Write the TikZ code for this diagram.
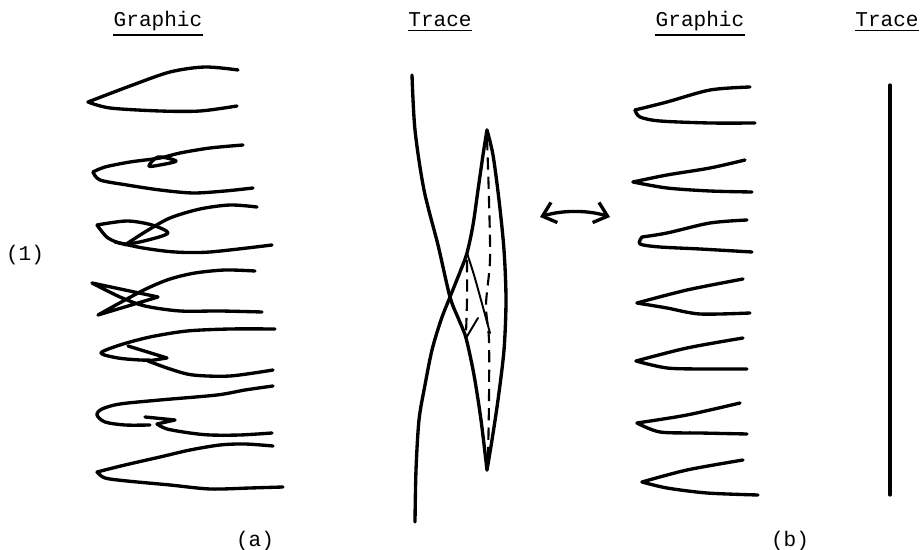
\documentclass[tikz,border=0pt]{standalone}
\usepackage{fontspec}
\setmonofont{Liberation Mono}
\usetikzlibrary{calc}
\usetikzlibrary{arrows.meta}

\tikzset{
  stroke/.style={line width=1.9pt, line cap=round, line join=round},
  thinstroke/.style={line width=1.1pt, line cap=round},
  dashstroke/.style={line width=1.2pt, dash pattern=on 7pt off 4pt},
  caption/.style={font=\ttfamily\fontsize{12}{14}\selectfont, inner sep=0pt},
}

\begin{document}
\begin{tikzpicture}[x=0.02cm, y=-0.02cm]
\useasboundingbox (0,0) rectangle (921,550);

% headings
\node[caption, anchor=base] (gA) at (158,27) {Graphic};
\node[caption, anchor=base] (tA) at (440,27) {Trace};
\node[caption, anchor=base] (gB) at (700,27) {Graphic};
\node[caption, anchor=base] (tB) at (887,27) {Trace};
\foreach \n in {gA,tA,gB,tB}
  \draw[line width=0.9pt] ($(\n.south west)+(0,3)$) -- ($(\n.south east)+(0,3)$);

\node[caption] (one) at (25,255) {(1)};
\node[caption] (capA) at (255,541) {(a)};
\node[caption] (capB) at (790,541) {(b)};

% (a) graphic
\draw[stroke] plot[smooth] coordinates {(238,70) (205,67) (170,72) (130,86) (88,102)};
\draw[stroke] plot[smooth] coordinates {(88,102) (110,108) (160,111) (200,111) (237,106)};

\draw[stroke] plot[smooth] coordinates {(243,145) (210,148) (180,153) (160,158) (130,162) (105,167) (93,172)};
\draw[stroke] plot[smooth] coordinates {(93,172) (100,180) (127,185) (160,190) (193,193) (225,191) (253,188)};
\draw[stroke] plot[smooth cycle] coordinates {(158,157) (176,161) (160,165) (149,166)};

\draw[stroke] plot[smooth] coordinates {(257,207) (230,205) (200,209) (170,218) (145,232) (125,245)};
\draw[stroke] plot[smooth] coordinates {(97,225) (127,221) (152,225) (168,233) (148,240) (125,244) (108,238) (97,225)};
\draw[stroke] plot[smooth] coordinates {(115,242) (143,248) (175,252) (210,252) (272,245)};

\draw[stroke] plot[smooth] coordinates {(255,271) (225,270) (195,273) (170,279) (148,288) (125,300) (98,315)}
  -- (158,297) -- (92,283)
  -- plot[smooth] coordinates {(92,283) (120,297) (145,306) (180,311) (220,311) (262,312)};

\draw[stroke] plot[smooth] coordinates {(275,329) (230,329) (187,331) (150,337) (120,345) (101,353) (118,358) (140,360) (150,360)};
\draw[stroke] (128,346) -- (167,358) -- (148,361);
\draw[stroke] plot[smooth] coordinates {(148,361) (170,369) (193,375) (230,376) (273,370)};

\draw[stroke] plot[smooth] coordinates {(273,386) (245,390) (217,395) (160,400) (120,404) (102,409) (97,415) (105,422) (125,425) (150,425)};
\draw[stroke] (145,417) -- (175,420) -- (157,424);
\draw[stroke] plot[smooth] coordinates {(157,424) (167,429) (190,433) (210,435) (240,435) (272,433)};

\draw[stroke] plot[smooth] coordinates {(273,446) (245,444) (220,445) (190,450) (160,457) (125,465) (97,472)};
\draw[stroke] plot[smooth] coordinates {(97,472) (105,478) (127,481) (170,485) (210,489) (250,488) (283,487)};

% (a) trace
\coordinate (lTop) at (412,75);
\coordinate (lBot) at (415,522);
\coordinate (cross) at (450,297);
\coordinate (pk) at (467,253);
\coordinate (vb) at (466,338);
\coordinate (top) at (487,130);
\coordinate (bot) at (487,470);

\draw[stroke] plot[smooth] coordinates {(lTop) (415,130) (424,190) (438,245) (cross) (459,320) (vb) (474,375) (481,420) (bot)};
\draw[stroke] plot[smooth] coordinates {(lBot) (416,470) (419,420) (425,385) (432,350) (441,320) (cross) (460,272) (pk) (473,225) (478,190) (483,155) (top)};
\draw[stroke] plot[smooth] coordinates {(top) (493,155) (499,200) (504,250) (506,300) (504,350) (498,400) (492,440) (bot)};
\draw[thinstroke] plot[smooth] coordinates {(pk) (474,275) (481,300) (490,333)};
\draw[thinstroke] (vb) -- (478,318);
\draw[dashstroke] plot[smooth] coordinates {(487,138) (489,200) (490,260) (486,305) (489,340) (489,400) (488,460)};
\draw[dashstroke] plot[smooth] coordinates {(467,260) (467,300) (466,333)};

% double arrow
\coordinate (arrL) at (540,217);
\coordinate (arrR) at (610,217);
\draw[stroke, {Straight Barb[length=7pt,width=12pt]}-{Straight Barb[length=7pt,width=12pt]}]
  (arrL) .. controls (562,210) and (588,210) .. (arrR);

% (b) graphic
\draw[stroke] plot[smooth] coordinates {(750,87) (710,90) (667,102) (635,110)};
\draw[stroke] plot[smooth] coordinates {(635,110) (640,117) (660,121) (710,123) (755,123)};

\draw[stroke] plot[smooth] coordinates {(745,160) (710,168) (667,175) (633,182)};
\draw[stroke] plot[smooth] coordinates {(633,182) (667,188) (710,191) (752,192)};

\draw[stroke] plot[smooth] coordinates {(747,220) (710,223) (667,233) (642,237)};
\draw[stroke] plot[smooth] coordinates {(642,237) (640,244) (660,247) (700,249) (752,252)};

\draw[stroke] plot[smooth] coordinates {(743,279) (687,290) (637,303)};
\draw[stroke] plot[smooth] coordinates {(637,303) (667,308) (700,314) (750,313)};

\draw[stroke] plot[smooth] coordinates {(743,338) (687,348) (636,361)};
\draw[stroke] plot[smooth] coordinates {(636,361) (667,368) (705,369) (747,369)};

\draw[stroke] plot[smooth] coordinates {(740,403) (687,415) (637,423)};
\draw[stroke] plot[smooth] coordinates {(637,423) (660,432) (700,433) (747,434)};

\draw[stroke] plot[smooth] coordinates {(743,460) (687,470) (642,482)};
\draw[stroke] plot[smooth] coordinates {(642,482) (667,488) (707,493) (758,495)};

% (b) trace
\coordinate (tbTop) at (890,85);
\coordinate (tbBot) at (890,495);
\draw[stroke] (tbTop) -- (tbBot);
\end{tikzpicture}
\end{document}
